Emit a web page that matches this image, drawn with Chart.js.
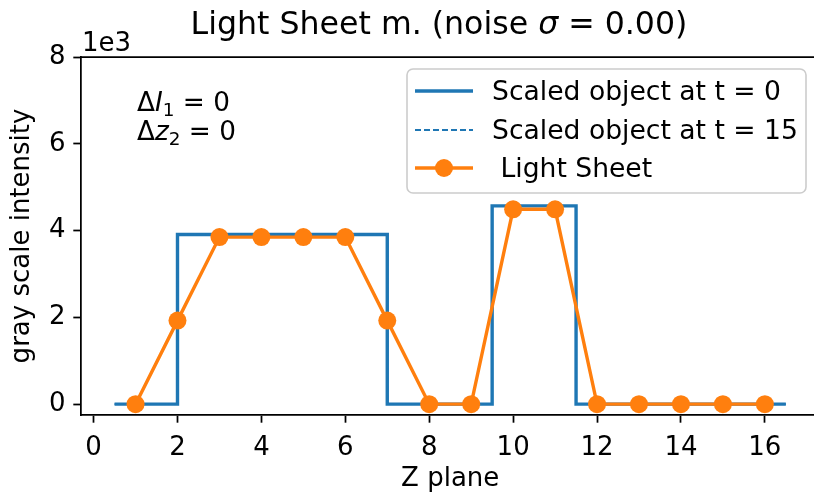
<!DOCTYPE html>
<html>
<head>
<meta charset="utf-8">
<script src="https://cdn.jsdelivr.net/npm/chart.js@4.4.0/dist/chart.umd.min.js"></script>
<style>
  html, body { margin: 0; padding: 0; background: #fff; overflow: hidden; }
  #wrap { width: 814px; height: 497px; overflow: hidden; }
</style>
</head>
<body>
<div id="wrap"><canvas id="zChart" width="830" height="497"></canvas></div>
<script>
// step profile of the object (edges on the z axis, value holds until next edge)
const stepEdges = [0.5, 2, 7, 9.5, 11.5, 16.5];
const objectT0 = [0, 3910, 0, 4570, 0, 0];
const objectT15 = [0, 3910, 0, 4570, 0, 0];

// light sheet measurement, one value per z plane
const zPlanes = [1, 2, 3, 4, 5, 6, 7, 8, 9, 10, 11, 12, 13, 14, 15, 16];
const lightSheet = [0, 1925, 3850, 3850, 3850, 3850, 1925, 0, 0, 4490, 4490, 0, 0, 0, 0, 0];

const xTicks = [0, 2, 4, 6, 8, 10, 12, 14, 16];
const yTicks = [0, 2000, 4000, 6000, 8000];
const seriesLabels = ['Scaled object at t = 0', 'Scaled object at t = 15', ' Light Sheet'];

const FONT = '"DejaVu Sans", sans-serif';
const BLUE = '#1f77b4';
const ORANGE = '#ff7f0e';

function toPoints(xs, ys) {
  return xs.map((x, i) => ({ x: x, y: ys[i] }));
}

// draw a row of text pieces (normal / italic / subscript)
function drawPieces(ctx, pieces, x, y, size, align) {
  let widths = pieces.map(p => {
    ctx.font = (p.italic ? 'italic ' : '') + (p.sub ? size * 0.7 : size) + 'px ' + FONT;
    return ctx.measureText(p.t).width;
  });
  let total = widths.reduce((a, b) => a + b, 0);
  let cx = align === 'center' ? x - total / 2 : x;
  ctx.textBaseline = 'alphabetic';
  ctx.textAlign = 'left';
  pieces.forEach((p, i) => {
    ctx.font = (p.italic ? 'italic ' : '') + (p.sub ? size * 0.7 : size) + 'px ' + FONT;
    ctx.fillText(p.t, cx, y + (p.sub ? 5 : 0));
    cx += widths[i];
  });
}

const extras = {
  id: 'extras',
  afterDraw(chart) {
    const ctx = chart.ctx;
    const area = chart.chartArea;
    ctx.save();
    ctx.fillStyle = '#000';

    // top spine
    ctx.strokeStyle = '#000';
    ctx.lineWidth = 1.75;
    ctx.beginPath();
    ctx.moveTo(area.left - 0.9, area.top);
    ctx.lineTo(area.right, area.top);
    ctx.stroke();

    // title
    drawPieces(ctx, [
      { t: 'Light Sheet m. (noise ' },
      { t: 'σ', italic: true },
      { t: ' = 0.00)' }
    ], 439, 34, 31.6, 'center');

    // offset text
    ctx.font = '26px ' + FONT;
    ctx.textAlign = 'left';
    ctx.textBaseline = 'alphabetic';
    ctx.fillText('1e3', 82, 51);

    // annotations
    drawPieces(ctx, [{ t: 'Δ' }, { t: 'I', italic: true }, { t: '1', sub: true }, { t: ' = 0' }], 137, 111, 26.3, 'left');
    drawPieces(ctx, [{ t: 'Δ' }, { t: 'z', italic: true }, { t: '2', sub: true }, { t: ' = 0' }], 137, 140, 26.3, 'left');

    // legend
    const bx = 407, by = 69, bw = 399, bh = 124, r = 6;
    ctx.beginPath();
    ctx.moveTo(bx + r, by);
    ctx.arcTo(bx + bw, by, bx + bw, by + bh, r);
    ctx.arcTo(bx + bw, by + bh, bx, by + bh, r);
    ctx.arcTo(bx, by + bh, bx, by, r);
    ctx.arcTo(bx, by, bx + bw, by, r);
    ctx.closePath();
    ctx.fillStyle = 'rgba(255,255,255,0.8)';
    ctx.fill();
    ctx.strokeStyle = '#cccccc';
    ctx.lineWidth = 1.6;
    ctx.stroke();

    const rows = [91, 130, 168];
    chart.data.datasets.forEach((ds, i) => {
      const ry = rows[i];
      ctx.strokeStyle = ds.borderColor;
      ctx.lineWidth = ds.borderWidth;
      ctx.setLineDash(ds.borderDash || []);
      ctx.beginPath();
      ctx.moveTo(415, ry);
      ctx.lineTo(473, ry);
      ctx.stroke();
      ctx.setLineDash([]);
      if (ds.pointRadius > 0) {
        ctx.fillStyle = ds.pointBackgroundColor;
        ctx.beginPath();
        ctx.arc(444, ry, ds.pointRadius, 0, Math.PI * 2);
        ctx.fill();
      }
      ctx.fillStyle = '#000';
      ctx.font = '26.6px ' + FONT;
      ctx.textAlign = 'left';
      ctx.textBaseline = 'alphabetic';
      ctx.fillText(ds.label, 492, ry + 9);
    });
    ctx.restore();
  }
};

const ctx = document.getElementById('zChart').getContext('2d');
const zChart = new Chart(ctx, {
  type: 'line',
  data: {
    datasets: [{
      label: seriesLabels[0],
      data: toPoints(stepEdges, objectT0),
      stepped: true,
      borderColor: BLUE,
      borderWidth: 3.4,
      pointRadius: 0,
      order: 2
    }, {
      label: seriesLabels[1],
      data: toPoints(stepEdges, objectT15),
      stepped: true,
      borderColor: BLUE,
      borderWidth: 1.8,
      borderDash: [6, 3],
      pointRadius: 0,
      order: 1
    }, {
      label: seriesLabels[2],
      data: toPoints(zPlanes, lightSheet),
      borderColor: ORANGE,
      borderWidth: 3.4,
      pointRadius: 9,
      pointBackgroundColor: ORANGE,
      pointBorderWidth: 0,
      order: 0
    }]
  },
  options: {
    responsive: false,
    devicePixelRatio: 1,
    animation: false,
    layout: { padding: { top: 57, right: 10.6, left: 0, bottom: 0 } },
    plugins: {
      legend: { display: false },
      tooltip: { enabled: false },
      title: { display: false }
    },
    scales: {
      x: {
        type: 'linear',
        min: -0.3,
        max: 17.3,
        afterFit: s => { s.height = 82; },
        afterBuildTicks: s => { s.ticks = xTicks.map(v => ({ value: v })); },
        grid: { drawOnChartArea: false, drawTicks: true, tickLength: 7.7, tickWidth: 1.75, color: '#000' },
        border: { display: true, color: '#000', width: 1.75 },
        ticks: { color: '#000', padding: 9.5, maxRotation: 0, font: { family: FONT, size: 26 } },
        title: { display: true, text: 'Z plane', color: '#000', padding: { bottom: 2 }, font: { family: FONT, size: 26 } }
      },
      y: {
        min: -250,
        max: 8000,
        afterFit: s => { s.width = 81; },
        afterBuildTicks: s => { s.ticks = yTicks.map(v => ({ value: v })); },
        grid: { drawOnChartArea: false, drawTicks: true, tickLength: 7.7, tickWidth: 1.75, color: '#000' },
        border: { display: true, color: '#000', width: 1.75 },
        ticks: { color: '#000', padding: 7.7, font: { family: FONT, size: 26 }, callback: v => v / 1000 },
        title: { display: true, text: 'gray scale intensity', color: '#000', padding: { top: 7 }, font: { family: FONT, size: 26 } }
      }
    }
  },
  plugins: [extras]
});
</script>
</body>
</html>
